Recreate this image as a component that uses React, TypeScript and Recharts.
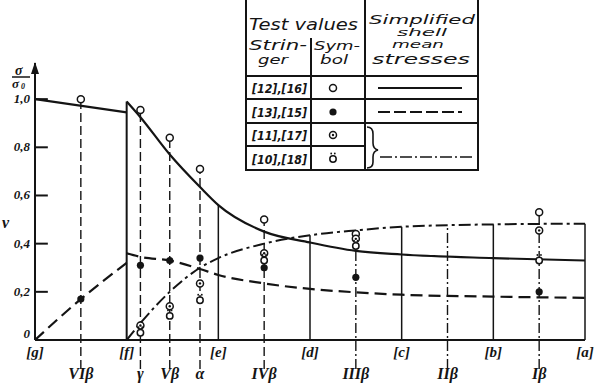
import React from 'react';
import { ComposedChart, Line, Scatter, XAxis, YAxis, ReferenceLine, ReferenceDot } from 'recharts';

// sections along the span, [g] at the root ... [a] at the tip
const sections = [0, 1, 2, 3, 4, 5, 6];
const sectionLabels = ['[g]', '[f]', '[e]', '[d]', '[c]', '[b]', '[a]'];
const sectionTops = [0, 0.99, 0.56, 0.435, 0.47, 0.48, 0.483];

// stations where the test values were measured
const stations = [0.5, 1.15, 1.47, 1.8, 2.5, 3.5, 4.5, 5.5];
const stationLabels = ['VIβ', 'γ', 'Vβ', 'α', 'IVβ', 'IIIβ', 'IIβ', 'Iβ'];
const stationTops = [1.0, 0.955, 0.84, 0.71, 0.5, 0.44, 0.475, 0.53];

const yTicks = [0, 0.2, 0.4, 0.6, 0.8, 1.0];

// simplified shell mean stresses
const solidLeft = [
  { x: 0, y: 1.0 },
  { x: 1, y: 0.945 },
];
const solidRight = [
  { x: 1, y: 0.99 },
  { x: 1.15, y: 0.925 },
  { x: 1.47, y: 0.77 },
  { x: 1.8, y: 0.635 },
  { x: 2, y: 0.56 },
  { x: 2.5, y: 0.45 },
  { x: 3, y: 0.405 },
  { x: 3.5, y: 0.37 },
  { x: 4, y: 0.355 },
  { x: 5, y: 0.34 },
  { x: 6, y: 0.33 },
];
const dashLeft = [
  { x: 0, y: 0 },
  { x: 0.5, y: 0.17 },
  { x: 1, y: 0.32 },
];
const dashRight = [
  { x: 1, y: 0.36 },
  { x: 1.15, y: 0.345 },
  { x: 1.47, y: 0.33 },
  { x: 1.8, y: 0.295 },
  { x: 2, y: 0.27 },
  { x: 2.5, y: 0.235 },
  { x: 3, y: 0.212 },
  { x: 3.5, y: 0.198 },
  { x: 4, y: 0.188 },
  { x: 5, y: 0.18 },
  { x: 6, y: 0.175 },
];
const dashDot = [
  { x: 1, y: 0 },
  { x: 1.15, y: 0.07 },
  { x: 1.47, y: 0.2 },
  { x: 1.8, y: 0.3 },
  { x: 2, y: 0.34 },
  { x: 2.5, y: 0.4 },
  { x: 3, y: 0.435 },
  { x: 3.5, y: 0.455 },
  { x: 4, y: 0.47 },
  { x: 5, y: 0.48 },
  { x: 6, y: 0.483 },
];

// test values
const s12_16 = [
  { x: 0.5, y: 1.0 },
  { x: 1.15, y: 0.955 },
  { x: 1.47, y: 0.84 },
  { x: 1.8, y: 0.71 },
  { x: 2.5, y: 0.5 },
  { x: 3.5, y: 0.44 },
  { x: 5.5, y: 0.53 },
];
const s13_15 = [
  { x: 0.5, y: 0.17 },
  { x: 1.15, y: 0.31 },
  { x: 1.47, y: 0.33 },
  { x: 1.8, y: 0.34 },
  { x: 2.5, y: 0.3 },
  { x: 3.5, y: 0.26 },
  { x: 5.5, y: 0.2 },
];
const s11_17 = [
  { x: 1.15, y: 0.06 },
  { x: 1.47, y: 0.14 },
  { x: 1.8, y: 0.235 },
  { x: 2.5, y: 0.36 },
  { x: 3.5, y: 0.42 },
  { x: 5.5, y: 0.455 },
];
const s10_18 = [
  { x: 1.15, y: 0.03 },
  { x: 1.47, y: 0.1 },
  { x: 1.8, y: 0.165 },
  { x: 2.5, y: 0.33 },
  { x: 3.5, y: 0.39 },
  { x: 5.5, y: 0.33 },
];

const INK = '#141414';
const LABEL_FONT = { fontFamily: 'Liberation Serif', fontStyle: 'italic', fontWeight: 'bold', fill: INK } as any;
const HAND = 'DejaVu Sans';

const OpenDot = (p: any) => <circle cx={p.cx} cy={p.cy} r={3.5} fill="#fff" stroke={INK} strokeWidth={1.5} />;
const FullDot = (p: any) => <circle cx={p.cx} cy={p.cy} r={3.6} fill={INK} />;
const RingDot = (p: any) => (
  <g>
    <circle cx={p.cx} cy={p.cy} r={3.5} fill="#fff" stroke={INK} strokeWidth={1.5} />
    <circle cx={p.cx} cy={p.cy} r={1.2} fill={INK} />
  </g>
);
const UmlautDot = (p: any) => (
  <g>
    <circle cx={p.cx} cy={p.cy} r={3.2} fill="#fff" stroke={INK} strokeWidth={1.5} />
    <circle cx={p.cx - 1.8} cy={p.cy - 5.5} r={0.9} fill={INK} />
    <circle cx={p.cx + 1.8} cy={p.cy - 5.5} r={0.9} fill={INK} />
  </g>
);

function Arrow(p: any) {
  return <path d={`M${p.cx - 4},${p.cy + 11} L${p.cx},${p.cy - 1} L${p.cx + 4},${p.cy + 11} Z`} fill={INK} />;
}

function fmtY(v: number) {
  return v === 0 ? '0' : v.toFixed(1).replace('.', ',');
}

// y tick labels; the zero sits a little higher, clear of [g]
function YTick(p: any) {
  const v = p.payload.value;
  return (
    <text x={p.x} y={v === 0 ? p.y - 6 : p.y} dy={4} textAnchor="end" fontSize={13} {...LABEL_FONT}>
      {fmtY(v)}
    </text>
  );
}

function LegendTable() {
  const t = { fontFamily: HAND, fontStyle: 'oblique', fill: INK, lengthAdjust: 'spacingAndGlyphs' } as any;
  return (
    <svg width={599} height={180} style={{ position: 'absolute', left: 0, top: 0, pointerEvents: 'none' }}>
      <g stroke={INK} strokeWidth={2} fill="none">
        <line x1={246} y1={0} x2={246} y2={171} />
        <line x1={311} y1={38} x2={311} y2={171} />
        <line x1={365} y1={0} x2={365} y2={171} />
        <line x1={478} y1={0} x2={478} y2={171} />
        <line x1={246} y1={76} x2={478} y2={76} />
        <line x1={246} y1={99} x2={478} y2={99} />
        <line x1={246} y1={123} x2={478} y2={123} />
        <line x1={246} y1={146} x2={365} y2={146} />
        <line x1={246} y1={170} x2={478} y2={170} />
        <line x1={378} y1={88} x2={462} y2={88} />
        <line x1={378} y1={112} x2={462} y2={112} strokeDasharray="12 4" />
        <line x1={380} y1={157} x2={472} y2={157} strokeDasharray="12 3 2 3" strokeWidth={1.6} />
        <path d="M367,127 Q373,127 373,134 L373,143 Q373,149 378,150 Q373,151 373,157 L373,162 Q373,168 367,168" strokeWidth={1.6} />
      </g>
      <text x={249} y={30} fontSize={15} textLength={109} {...t}>Test values</text>
      <text x={249} y={50} fontSize={14} textLength={58} {...t}>Strin-</text>
      <text x={258} y={64} fontSize={13} textLength={30} {...t}>ger</text>
      <text x={314} y={50} fontSize={13} textLength={46} {...t}>Sym-</text>
      <text x={320} y={64} fontSize={13} textLength={28} {...t}>bol</text>
      <text x={369} y={24} fontSize={13} textLength={106} {...t}>Simplified</text>
      <text x={397} y={36} fontSize={11} textLength={50} {...t}>shell</text>
      <text x={392} y={48} fontSize={11} textLength={52} {...t}>mean</text>
      <text x={372} y={64} fontSize={14} textLength={98} {...t}>stresses</text>
      {['[12],[16]', '[13],[15]', '[11],[17]', '[10],[18]'].map((s, i) => (
        <text key={s} x={252} y={93 + i * 23.5} fontSize={13} textLength={55} {...t} fontWeight="bold">{s}</text>
      ))}
      <OpenDot cx={333} cy={88} />
      <FullDot cx={333} cy={112} />
      <RingDot cx={333} cy={135} />
      <UmlautDot cx={333} cy={159} />
    </svg>
  );
}

function YLabel() {
  return (
    <g fill={INK} fontFamily="Liberation Serif" fontStyle="italic" fontWeight="bold">
      <text x={15} y={75} fontSize={14}>σ</text>
      <line x1={12} y1={77} x2={30} y2={77} stroke={INK} strokeWidth={1.5} />
      <text x={12} y={88} fontSize={13}>σ</text>
      <text x={21} y={89} fontSize={8}>0</text>
      <text x={2} y={228} fontSize={16}>ν</text>
    </g>
  );
}

export default function App() {
  return (
    <div style={{ position: 'absolute', left: 0, top: 0, width: 599, height: 388, background: '#fff' }}>
      <ComposedChart width={599} height={388} margin={{ top: 63, right: 14, bottom: 0, left: 0 }}>
        <XAxis
          type="number"
          dataKey="x"
          domain={[0, 6]}
          ticks={sections}
          allowDataOverflow
          height={24}
          tickFormatter={(v: number) => sectionLabels[sections.indexOf(v)] ?? ''}
          tickLine={false}
          tickSize={0}
          tickMargin={6}
          axisLine={{ stroke: INK, strokeWidth: 2 }}
          tick={{ ...LABEL_FONT, fontSize: 15 }}
          interval={0}
        />
        <XAxis
          xAxisId="b"
          type="number"
          dataKey="x"
          domain={[0, 6]}
          ticks={stations}
          allowDataOverflow
          height={24}
          tickFormatter={(v: number) => stationLabels[stations.indexOf(v)] ?? ''}
          tickLine={false}
          tickSize={0}
          tickMargin={4}
          axisLine={false}
          tick={{ ...LABEL_FONT, fontSize: 16 }}
          interval={0}
        />
        <YAxis
          type="number"
          domain={[0, 1.15]}
          ticks={yTicks}
          allowDataOverflow
          width={35}
          tickLine={false}
          tickSize={0}
          tickMargin={5}
          axisLine={{ stroke: INK, strokeWidth: 2 }}
          tick={<YTick />}
          interval={0}
          label={<YLabel />}
        />

        {yTicks.slice(1).map((v) => (
          <ReferenceLine key={'t' + v} segment={[{ x: 0, y: v }, { x: 0.14, y: v }]} stroke={INK} strokeWidth={2} />
        ))}
        <ReferenceDot x={0} y={1.15} ifOverflow="visible" shape={<Arrow />} />

        {sections.slice(1).map((s, i) => (
          <ReferenceLine
            key={'s' + s}
            segment={[{ x: s, y: 0 }, { x: s, y: sectionTops[i + 1] }]}
            stroke={INK}
            strokeWidth={s === 1 ? 2 : 1.5}
          />
        ))}
        {stations.map((s, i) => (
          <ReferenceLine
            key={'b' + s}
            segment={[{ x: s, y: -0.12 }, { x: s, y: stationTops[i] }]}
            ifOverflow="visible"
            stroke={INK}
            strokeWidth={1.4}
            strokeDasharray={s > 3 ? '10 3 2 3' : '9 4'}
          />
        ))}

        <Line data={solidLeft} dataKey="y" type="linear" stroke={INK} strokeWidth={2.2} dot={false} isAnimationActive={false} />
        <Line data={solidRight} dataKey="y" type="monotone" stroke={INK} strokeWidth={2.2} dot={false} isAnimationActive={false} />
        <Line data={dashLeft} dataKey="y" type="monotone" stroke={INK} strokeWidth={2.2} strokeDasharray="12 6" dot={false} isAnimationActive={false} />
        <Line data={dashRight} dataKey="y" type="monotone" stroke={INK} strokeWidth={2.2} strokeDasharray="12 6" dot={false} isAnimationActive={false} />
        <Line data={dashDot} dataKey="y" type="monotone" stroke={INK} strokeWidth={2} strokeDasharray="12 4 3 4" dot={false} isAnimationActive={false} />

        <Scatter data={s12_16} dataKey="y" shape={<OpenDot />} isAnimationActive={false} />
        <Scatter data={s13_15} dataKey="y" shape={<FullDot />} isAnimationActive={false} />
        <Scatter data={s11_17} dataKey="y" shape={<RingDot />} isAnimationActive={false} />
        <Scatter data={s10_18} dataKey="y" shape={<UmlautDot />} isAnimationActive={false} />
      </ComposedChart>
      <LegendTable />
    </div>
  );
}
